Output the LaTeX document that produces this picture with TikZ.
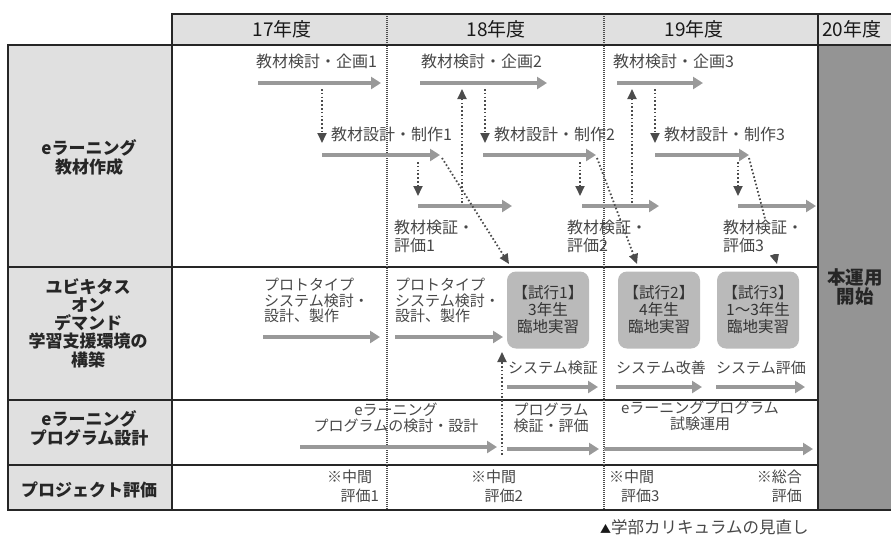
\documentclass[tikz,border=0pt]{standalone}
\usepackage{fontspec}
\setmainfont{Noto Sans CJK JP}
\usetikzlibrary{arrows.meta}
\begin{document}
\begin{tikzpicture}[x=1pt,y=-1pt,
  bar/.style={draw=black!40, line width=4.5pt, -{Triangle[width=12pt,length=10pt]}},
  dotarrow/.style={draw=black!70, line width=1.8pt, dash pattern=on 1.6pt off 2.2pt, -{Triangle[width=9pt,length=10pt]}},
  ctext/.style={text=black!72, font=\fontsize{16}{18}\selectfont, inner sep=0pt},
  ptext/.style={text=black!72, font=\fontsize{15}{15.5}\selectfont, inner sep=0pt, align=left},
  rowhead/.style={text=black!85, font=\fontsize{17}{19}\selectfont\bfseries, align=center, inner sep=0pt},
  yearhead/.style={text=black!90, font=\fontsize{19}{20}\selectfont, inner sep=0pt},
  trialbox/.style={fill=black!27, rounded corners=9pt, draw=none, minimum width=82pt, minimum height=77pt, inner sep=0pt, align=center, text=black!80, font=\fontsize{15.5}{17}\selectfont},
  frame/.style={draw=black!85, line width=1.8pt},
  rowline/.style={draw=black!85, line width=1.3pt},
  yeardiv/.style={draw=black!70, line width=1.2pt, dash pattern=on 1pt off 1pt},
]
\useasboundingbox (0,0) rectangle (891,536);
% ---------- fills
\fill[black!12] (172,14) rectangle (891,45);
\fill[black!12] (8,45) rectangle (172,510);
\fill[black!42] (818,45) rectangle (891,510);
% ---------- grid
\draw[rowline] (8,267) -- (818,267);
\draw[rowline] (8,400) -- (818,400);
\draw[rowline] (8,465) -- (818,465);
\draw[yeardiv] (387,14) -- (387,510);
\draw[yeardiv] (604,14) -- (604,510);
\draw[frame] (172,45) -- (172,14) -- (891,14);
\draw[frame] (8,45) -- (891,45);
\draw[frame] (8,510) -- (891,510);
\draw[frame] (8,44) -- (8,511);
\draw[frame] (172,45) -- (172,510);
\draw[frame] (818,14) -- (818,510);
% ---------- year headers
\node[yearhead] (y17) at (282,29) {17年度};
\node[yearhead] (y18) at (496,29) {18年度};
\node[yearhead] (y19) at (694,29) {19年度};
\node[yearhead, anchor=west] (y20) at (822,29) {20年度};
% ---------- row headers
\node[rowhead] (h1) at (89,157) {eラーニング\\教材作成};
\node[rowhead, font=\fontsize{17}{18.2}\selectfont\bfseries] (h2) at (88,323) {ユビキタス\\オン\\デマンド\\学習支援環境の\\構築};
\node[rowhead] (h3) at (89,428) {eラーニング\\プログラム設計};
\node[rowhead] (h4) at (89,490) {プロジェクト評価};
\node[rowhead, font=\fontsize{18.5}{19.5}\selectfont\bfseries] (hon) at (855,287) {本運用\\開始};
% ---------- row 1 : 17
\node[ctext, anchor=west] (kk1) at (256,61) {教材検討・企画1};
\coordinate (kk1s) at (258,83); \coordinate (kk1e) at (381,83);
\draw[bar] (kk1s) -- (kk1e);
\coordinate (d1s) at (322,89); \coordinate (d1e) at (322,143);
\draw[dotarrow] (d1s) -- (d1e);
\node[ctext, anchor=west] (ss1) at (331,134) {教材設計・制作1};
\coordinate (ss1s) at (322,155); \coordinate (ss1e) at (440,155);
\draw[bar] (ss1s) -- (ss1e);
\coordinate (d1bs) at (418,162); \coordinate (d1be) at (418,196);
\draw[dotarrow] (d1bs) -- (d1be);
\coordinate (kv1s) at (418,206); \coordinate (kv1e) at (512,206);
\draw[bar] (kv1s) -- (kv1e);
\node[ctext, anchor=north west, align=left] (kv1) at (394,220) {教材検証・\\評価1};
\coordinate (g1s) at (442,158); \coordinate (g1e) at (509,264);
\draw[dotarrow] (g1s) -- (g1e);
\coordinate (u1s) at (462,203); \coordinate (u1e) at (462,89);
\draw[dotarrow] (u1s) -- (u1e);
% ---------- row 1 : 18
\node[ctext, anchor=west] (kk2) at (421,61) {教材検討・企画2};
\coordinate (kk2s) at (420,83); \coordinate (kk2e) at (547,83);
\draw[bar] (kk2s) -- (kk2e);
\coordinate (d2s) at (485,89); \coordinate (d2e) at (485,143);
\draw[dotarrow] (d2s) -- (d2e);
\node[ctext, anchor=west] (ss2) at (494,134) {教材設計・制作2};
\coordinate (ss2s) at (483,155); \coordinate (ss2e) at (596,155);
\draw[bar] (ss2s) -- (ss2e);
\coordinate (d2bs) at (580,162); \coordinate (d2be) at (580,196);
\draw[dotarrow] (d2bs) -- (d2be);
\coordinate (kv2s) at (582,206); \coordinate (kv2e) at (659,206);
\draw[bar] (kv2s) -- (kv2e);
\node[ctext, anchor=north west, align=left] (kv2) at (567,220) {教材検証・\\評価2};
\coordinate (g2s) at (597,158); \coordinate (g2e) at (637,264);
\draw[dotarrow] (g2s) -- (g2e);
\coordinate (u2s) at (632,203); \coordinate (u2e) at (632,89);
\draw[dotarrow] (u2s) -- (u2e);
% ---------- row 1 : 19
\node[ctext, anchor=west] (kk3) at (613,61) {教材検討・企画3};
\coordinate (kk3s) at (617,83); \coordinate (kk3e) at (703,83);
\draw[bar] (kk3s) -- (kk3e);
\coordinate (d3s) at (655,89); \coordinate (d3e) at (655,143);
\draw[dotarrow] (d3s) -- (d3e);
\node[ctext, anchor=west] (ss3) at (664,134) {教材設計・制作3};
\coordinate (ss3s) at (655,155); \coordinate (ss3e) at (749,155);
\draw[bar] (ss3s) -- (ss3e);
\coordinate (d3bs) at (738,162); \coordinate (d3be) at (738,196);
\draw[dotarrow] (d3bs) -- (d3be);
\coordinate (kv3s) at (738,206); \coordinate (kv3e) at (816,206);
\draw[bar] (kv3s) -- (kv3e);
\coordinate (g3s) at (749,158); \coordinate (g3e) at (777,264);
\draw[dotarrow] (g3s) -- (g3e);
\node[ctext, anchor=north west, align=left, fill=white, inner sep=1pt] (kv3) at (722,219) {教材検証・\\評価3};
% ---------- row 2
\node[ptext, anchor=north west] (pt1) at (264,278) {プロトタイプ\\システム検討・\\設計、製作};
\coordinate (pt1s) at (263,337); \coordinate (pt1e) at (380,337);
\draw[bar] (pt1s) -- (pt1e);
\node[ptext, anchor=north west] (pt2) at (395,278) {プロトタイプ\\システム検討・\\設計、製作};
\coordinate (pt2s) at (395,337); \coordinate (pt2e) at (503,337);
\draw[bar] (pt2s) -- (pt2e);
\node[trialbox] (tr1) at (548,310) {【試行1】\\3年生\\臨地実習};
\node[trialbox] (tr2) at (659,310) {【試行2】\\4年生\\臨地実習};
\node[trialbox] (tr3) at (758,310) {【試行3】\\1～3年生\\臨地実習};
\node[ptext, anchor=west] (sv1) at (508,368) {システム検証};
\coordinate (sv1s) at (507,387); \coordinate (sv1e) at (598,387);
\draw[bar] (sv1s) -- (sv1e);
\node[ptext, anchor=west] (sv2) at (616,368) {システム改善};
\coordinate (sv2s) at (616,387); \coordinate (sv2e) at (702,387);
\draw[bar] (sv2s) -- (sv2e);
\node[ptext, anchor=west] (sv3) at (716,368) {システム評価};
\coordinate (sv3s) at (716,387); \coordinate (sv3e) at (805,387);
\draw[bar] (sv3s) -- (sv3e);
% ---------- row 3
\node[ptext, align=center, font=\fontsize{15}{16.5}\selectfont] (ep1) at (396,418) {eラーニング\\プログラムの検討・設計};
\coordinate (ep1s) at (300,447); \coordinate (ep1e) at (497,447);
\draw[bar] (ep1s) -- (ep1e);
\coordinate (u4s) at (502,455); \coordinate (u4e) at (502,352);
\draw[dotarrow] (u4s) -- (u4e);
\node[ptext, align=center, font=\fontsize{15}{16.5}\selectfont] (ep2) at (551,418) {プログラム\\検証・評価};
\coordinate (ep2s) at (507,449); \coordinate (ep2e) at (599,449);
\draw[bar] (ep2s) -- (ep2e);
\node[ptext, align=center, font=\fontsize{15}{16.5}\selectfont] (ep3) at (700,416) {eラーニングプログラム\\試験運用};
\coordinate (ep3s) at (604,449); \coordinate (ep3e) at (813,449);
\draw[bar] (ep3s) -- (ep3e);
% ---------- row 4
\node[ptext, anchor=north west, font=\fontsize{15}{19}\selectfont] (ev1) at (327,470) {※中間\\\hspace*{0.9em}評価1};
\node[ptext, anchor=north west, font=\fontsize{15}{19}\selectfont] (ev2) at (471,470) {※中間\\\hspace*{0.9em}評価2};
\node[ptext, anchor=north west, font=\fontsize{15}{19}\selectfont] (ev3) at (609,470) {※中間\\\hspace*{0.8em}評価3};
\node[ptext, anchor=north east, align=right, font=\fontsize{15}{19}\selectfont] (ev4) at (802,470) {※総合\\評価};
% ---------- caption
\node[ctext, anchor=west, font=\fontsize{16.5}{18}\selectfont] (cap) at (600,527) {{\color{black!90}\fontsize{11}{12}\selectfont ▲}学部カリキュラムの見直し};
\end{tikzpicture}
\end{document}
